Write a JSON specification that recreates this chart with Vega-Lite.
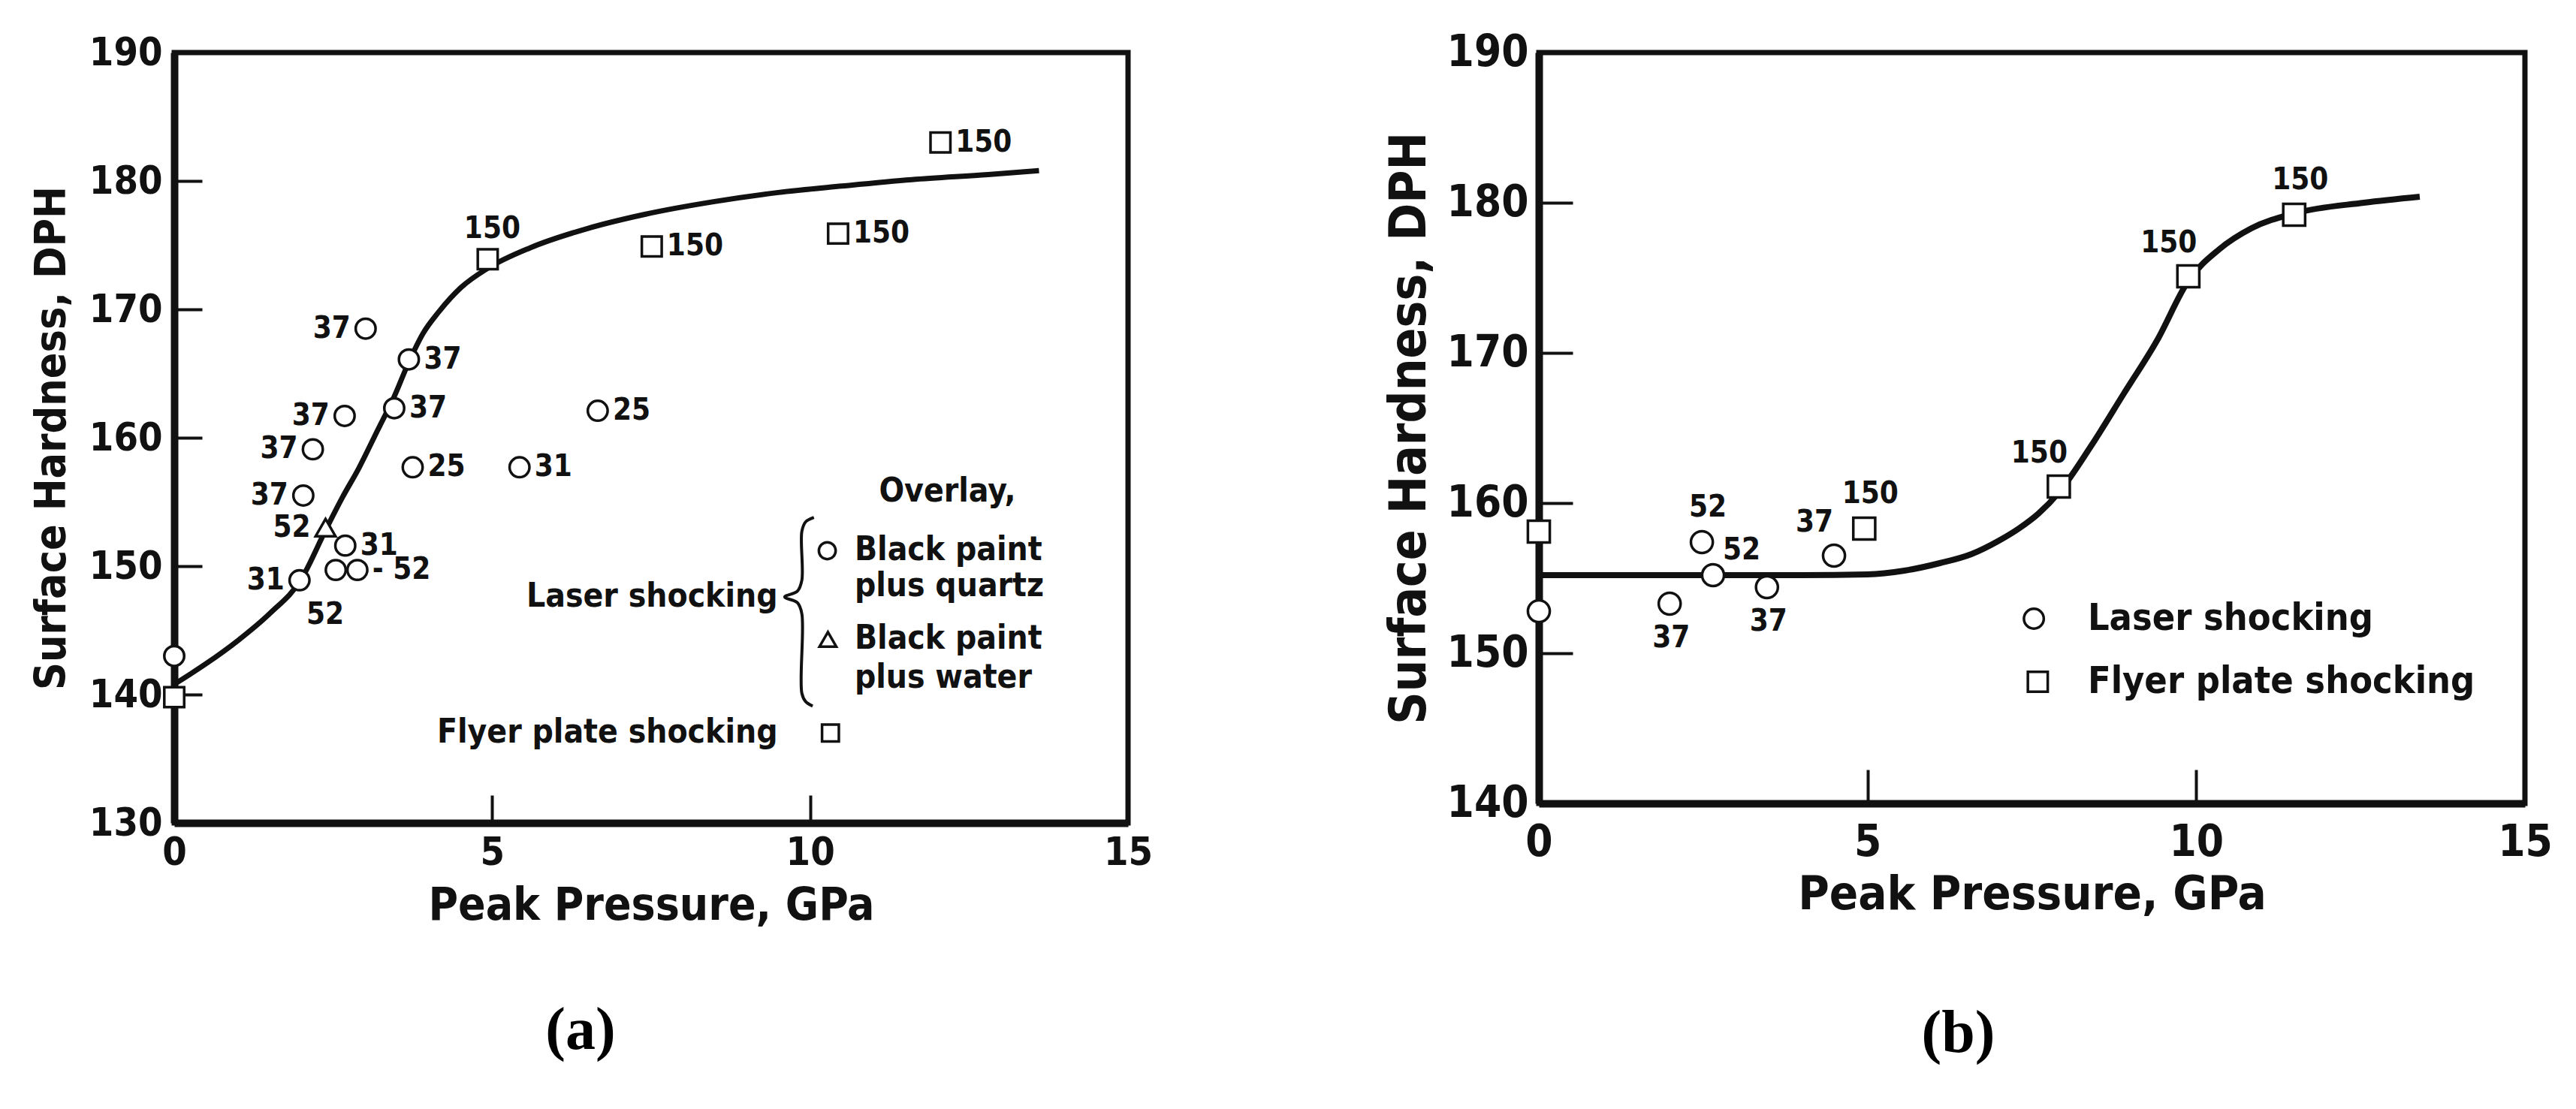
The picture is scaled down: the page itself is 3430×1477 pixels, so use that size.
{
  "$schema": "https://vega.github.io/schema/vega-lite/v6.json",
  "background": "white",
  "padding": {"left": 36, "top": 37, "right": 5, "bottom": 5},
  "spacing": 300,
  "config": {
    "font": "DejaVu Sans Condensed, DejaVu Sans",
    "view": {"stroke": "#111", "strokeWidth": 7},
    "axis": {"grid": false, "domainColor": "#111", "domainWidth": 10, "tickColor": "#111", "tickWidth": 4, "labelColor": "#111", "titleColor": "#111", "labelFont": "DejaVu Sans Condensed, DejaVu Sans", "titleFont": "DejaVu Sans Condensed, DejaVu Sans", "labelFontWeight": "bold", "titleFontWeight": "bold", "labelFlush": false, "labelOverlap": false},
    "text": {"color": "#111", "fontWeight": "bold"}
  },
  "datasets": {
    "curveA": [
      {"x": 0, "y": 140.8}, {"x": 0.5, "y": 142.4}, {"x": 1.0, "y": 144.2}, {"x": 1.5, "y": 146.3},
      {"x": 2.0, "y": 149.0}, {"x": 2.38, "y": 152.8}, {"x": 2.65, "y": 155.4}, {"x": 2.9, "y": 157.6},
      {"x": 3.2, "y": 160.6}, {"x": 3.45, "y": 163.1}, {"x": 3.69, "y": 165.9}, {"x": 3.91, "y": 168.1},
      {"x": 4.16, "y": 169.8}, {"x": 4.51, "y": 171.7}, {"x": 4.93, "y": 173.2}, {"x": 5.6, "y": 174.8},
      {"x": 6.5, "y": 176.3}, {"x": 7.4, "y": 177.4}, {"x": 8.5, "y": 178.4}, {"x": 9.5, "y": 179.1},
      {"x": 10.5, "y": 179.6}, {"x": 11.6, "y": 180.1}, {"x": 12.8, "y": 180.5}, {"x": 13.6, "y": 180.8}
    ],
    "ptsA": [
      {"x": 0, "y": 143.0, "shape": "circle", "lab": "", "side": "none"},
      {"x": 0, "y": 139.8, "shape": "square", "lab": "", "side": "none"},
      {"x": 3.01, "y": 168.5, "shape": "circle", "lab": "37", "side": "L"},
      {"x": 3.69, "y": 166.1, "shape": "circle", "lab": "37", "side": "R"},
      {"x": 3.46, "y": 162.3, "shape": "circle", "lab": "37", "side": "R"},
      {"x": 2.68, "y": 161.7, "shape": "circle", "lab": "37", "side": "L"},
      {"x": 2.18, "y": 159.1, "shape": "circle", "lab": "37", "side": "L"},
      {"x": 2.03, "y": 155.5, "shape": "circle", "lab": "37", "side": "L"},
      {"x": 2.38, "y": 153.0, "shape": "triangle", "lab": "52", "side": "L"},
      {"x": 2.69, "y": 151.6, "shape": "circle", "lab": "31", "side": "R"},
      {"x": 1.97, "y": 148.9, "shape": "circle", "lab": "31", "side": "L"},
      {"x": 2.54, "y": 149.7, "shape": "circle", "lab": "52", "side": "B"},
      {"x": 2.88, "y": 149.7, "shape": "circle", "lab": "- 52", "side": "R"},
      {"x": 3.75, "y": 157.7, "shape": "circle", "lab": "25", "side": "R"},
      {"x": 5.43, "y": 157.7, "shape": "circle", "lab": "31", "side": "R"},
      {"x": 6.66, "y": 162.1, "shape": "circle", "lab": "25", "side": "R"},
      {"x": 4.93, "y": 173.9, "shape": "square", "lab": "150", "side": "T"},
      {"x": 7.51, "y": 174.9, "shape": "square", "lab": "150", "side": "R"},
      {"x": 10.44, "y": 175.9, "shape": "square", "lab": "150", "side": "R"},
      {"x": 12.05, "y": 183.0, "shape": "square", "lab": "150", "side": "R"}
    ],
    "legTextA": [
      {"x": 12.16, "y": 155.8, "text": "Overlay,", "kind": "heading"},
      {"x": 9.49, "y": 147.6, "text": "Laser shocking", "kind": "method"},
      {"x": 9.49, "y": 137.0, "text": "Flyer plate shocking", "kind": "method"},
      {"x": 10.7, "y": 151.2, "text": "Black paint", "kind": "overlay"},
      {"x": 10.7, "y": 148.4, "text": "plus quartz", "kind": "overlay"},
      {"x": 10.7, "y": 144.3, "text": "Black paint", "kind": "overlay"},
      {"x": 10.7, "y": 141.3, "text": "plus water", "kind": "overlay"}
    ],
    "legMarkA": [
      {"x": 10.27, "y": 151.2, "shape": "circle"},
      {"x": 10.28, "y": 144.3, "shape": "triangle"},
      {"x": 10.32, "y": 137.0, "shape": "square"}
    ],
    "braceA": [
      {"i": 0, "x": 10.06, "y": 153.8}, {"i": 1, "x": 9.93, "y": 153.45}, {"i": 2, "x": 9.87, "y": 152.7},
      {"i": 3, "x": 9.87, "y": 148.9}, {"i": 4, "x": 9.8, "y": 148.05}, {"i": 5, "x": 9.6, "y": 147.6},
      {"i": 6, "x": 9.8, "y": 147.15}, {"i": 7, "x": 9.87, "y": 146.3}, {"i": 8, "x": 9.87, "y": 140.1},
      {"i": 9, "x": 9.93, "y": 139.45}, {"i": 10, "x": 10.04, "y": 139.1}
    ],
    "curveB": [
      {"x": 0, "y": 155.2}, {"x": 1, "y": 155.2}, {"x": 2, "y": 155.2}, {"x": 3, "y": 155.2},
      {"x": 4, "y": 155.2}, {"x": 5, "y": 155.25}, {"x": 5.56, "y": 155.5}, {"x": 6.1, "y": 156.0},
      {"x": 6.58, "y": 156.6}, {"x": 7.0, "y": 157.5}, {"x": 7.3, "y": 158.3}, {"x": 7.6, "y": 159.3},
      {"x": 7.91, "y": 160.7}, {"x": 8.4, "y": 163.8}, {"x": 8.9, "y": 167.3}, {"x": 9.4, "y": 170.8},
      {"x": 9.88, "y": 174.8}, {"x": 10.35, "y": 176.9}, {"x": 10.84, "y": 178.3}, {"x": 11.5, "y": 179.3},
      {"x": 12.55, "y": 180.0}, {"x": 13.4, "y": 180.4}
    ],
    "ptsB": [
      {"x": 0, "y": 158.1, "shape": "square", "lab": "", "side": "none"},
      {"x": 0, "y": 152.8, "shape": "circle", "lab": "", "side": "none"},
      {"x": 2.48, "y": 157.4, "shape": "circle", "lab": "52", "side": "T"},
      {"x": 2.65, "y": 155.2, "shape": "circle", "lab": "52", "side": "TR"},
      {"x": 1.99, "y": 153.3, "shape": "circle", "lab": "37", "side": "B"},
      {"x": 3.47, "y": 154.4, "shape": "circle", "lab": "37", "side": "B"},
      {"x": 4.49, "y": 156.5, "shape": "circle", "lab": "37", "side": "TL"},
      {"x": 4.95, "y": 158.3, "shape": "square", "lab": "150", "side": "T"},
      {"x": 7.91, "y": 161.1, "shape": "square", "lab": "150", "side": "TL"},
      {"x": 9.88, "y": 175.1, "shape": "square", "lab": "150", "side": "TL"},
      {"x": 11.49, "y": 179.2, "shape": "square", "lab": "150", "side": "T"}
    ],
    "legTextB": [
      {"x": 8.35, "y": 152.3, "text": "Laser shocking"},
      {"x": 8.35, "y": 148.1, "text": "Flyer plate shocking"}
    ],
    "legMarkB": [
      {"x": 7.53, "y": 152.3, "shape": "circle"},
      {"x": 7.59, "y": 148.1, "shape": "square"}
    ]
  },
  "hconcat": [
    {
      "width": 1270,
      "height": 1026,
      "title": {"text": "(a)", "orient": "bottom", "frame": "group", "anchor": "middle", "dx": -94, "offset": 98, "font": "Liberation Serif", "fontSize": 80, "fontWeight": "bold", "color": "black"},
      "encoding": {
        "x": {"field": "x", "type": "quantitative", "scale": {"domain": [0, 15], "nice": false, "zero": false},
              "axis": {"values": [0, 5, 10, 15], "title": "Peak Pressure, GPa", "tickSize": -37, "labelPadding": 51, "labelFontSize": 52, "titleFontSize": 60, "titlePadding": 16}},
        "y": {"field": "y", "type": "quantitative", "scale": {"domain": [130, 190], "nice": false, "zero": false},
              "axis": {"values": [130, 140, 150, 160, 170, 180, 190], "title": "Surface Hardness, DPH", "tickSize": -37, "labelPadding": 53, "labelFontSize": 52, "titleFontSize": 57, "titlePadding": 20}}
      },
      "layer": [
        {"data": {"name": "curveA"}, "mark": {"type": "line", "interpolate": "monotone", "color": "#111", "strokeWidth": 7}},
        {"data": {"name": "braceA"}, "mark": {"type": "line", "interpolate": "catmull-rom", "color": "#111", "strokeWidth": 4}, "encoding": {"order": {"field": "i", "type": "quantitative"}}},
        {"data": {"name": "ptsA"}, "mark": {"type": "point", "filled": true, "fill": "white", "stroke": "#111", "strokeWidth": 3.5, "size": 700, "opacity": 1},
         "encoding": {"shape": {"field": "shape", "type": "nominal", "scale": {"domain": ["circle", "square", "triangle"], "range": ["circle", "square", "triangle-up"]}, "legend": null}}},
        {"data": {"name": "legMarkA"}, "mark": {"type": "point", "filled": true, "fill": "white", "stroke": "#111", "strokeWidth": 3.5, "size": 500, "opacity": 1},
         "encoding": {"shape": {"field": "shape", "type": "nominal", "scale": {"domain": ["circle", "square", "triangle"], "range": ["circle", "square", "triangle-up"]}, "legend": null}}},
        {"data": {"name": "ptsA"}, "transform": [{"filter": "datum.side === 'R'"}], "mark": {"type": "text", "align": "left", "baseline": "middle", "dx": 20, "fontSize": 40}, "encoding": {"text": {"field": "lab"}}},
        {"data": {"name": "ptsA"}, "transform": [{"filter": "datum.side === 'L'"}], "mark": {"type": "text", "align": "right", "baseline": "middle", "dx": -20, "fontSize": 40}, "encoding": {"text": {"field": "lab"}}},
        {"data": {"name": "ptsA"}, "transform": [{"filter": "datum.side === 'T'"}], "mark": {"type": "text", "align": "center", "baseline": "middle", "dx": 6, "dy": -40, "fontSize": 40}, "encoding": {"text": {"field": "lab"}}},
        {"data": {"name": "ptsA"}, "transform": [{"filter": "datum.side === 'B'"}], "mark": {"type": "text", "align": "center", "baseline": "middle", "dx": -14, "dy": 60, "fontSize": 40}, "encoding": {"text": {"field": "lab"}}},
        {"data": {"name": "legTextA"}, "transform": [{"filter": "datum.kind === 'heading'"}], "mark": {"type": "text", "align": "center", "baseline": "middle", "fontSize": 44}, "encoding": {"text": {"field": "text"}}},
        {"data": {"name": "legTextA"}, "transform": [{"filter": "datum.kind === 'method'"}], "mark": {"type": "text", "align": "right", "baseline": "middle", "fontSize": 44}, "encoding": {"text": {"field": "text"}}},
        {"data": {"name": "legTextA"}, "transform": [{"filter": "datum.kind === 'overlay'"}], "mark": {"type": "text", "align": "left", "baseline": "middle", "fontSize": 44}, "encoding": {"text": {"field": "text"}}}
      ]
    },
    {
      "width": 1313,
      "height": 1000,
      "title": {"text": "(b)", "orient": "bottom", "frame": "group", "anchor": "middle", "dx": -98, "offset": 115, "font": "Liberation Serif", "fontSize": 80, "fontWeight": "bold", "color": "black"},
      "encoding": {
        "x": {"field": "x", "type": "quantitative", "scale": {"domain": [0, 15], "nice": false, "zero": false},
              "axis": {"values": [0, 5, 10, 15], "title": "Peak Pressure, GPa", "tickSize": -45, "labelPadding": 68, "labelFontSize": 58, "titleFontSize": 63, "titlePadding": 9}},
        "y": {"field": "y", "type": "quantitative", "scale": {"domain": [140, 190], "nice": false, "zero": false},
              "axis": {"values": [140, 150, 160, 170, 180, 190], "title": "Surface Hardness, DPH", "tickSize": -45, "labelPadding": 59, "labelFontSize": 58, "titleFontSize": 67, "titlePadding": 15}}
      },
      "layer": [
        {"data": {"name": "curveB"}, "mark": {"type": "line", "interpolate": "monotone", "color": "#111", "strokeWidth": 8}},
        {"data": {"name": "ptsB"}, "mark": {"type": "point", "filled": true, "fill": "white", "stroke": "#111", "strokeWidth": 3.5, "size": 850, "opacity": 1},
         "encoding": {"shape": {"field": "shape", "type": "nominal", "scale": {"domain": ["circle", "square"], "range": ["circle", "square"]}, "legend": null}}},
        {"data": {"name": "legMarkB"}, "mark": {"type": "point", "filled": true, "fill": "white", "stroke": "#111", "strokeWidth": 3.5, "size": 700, "opacity": 1},
         "encoding": {"shape": {"field": "shape", "type": "nominal", "scale": {"domain": ["circle", "square"], "range": ["circle", "square"]}, "legend": null}}},
        {"data": {"name": "ptsB"}, "transform": [{"filter": "datum.side === 'T'"}], "mark": {"type": "text", "align": "center", "baseline": "middle", "dx": 8, "dy": -46, "fontSize": 40}, "encoding": {"text": {"field": "lab"}}},
        {"data": {"name": "ptsB"}, "transform": [{"filter": "datum.side === 'TL'"}], "mark": {"type": "text", "align": "center", "baseline": "middle", "dx": -26, "dy": -44, "fontSize": 40}, "encoding": {"text": {"field": "lab"}}},
        {"data": {"name": "ptsB"}, "transform": [{"filter": "datum.side === 'TR'"}], "mark": {"type": "text", "align": "center", "baseline": "middle", "dx": 38, "dy": -33, "fontSize": 40}, "encoding": {"text": {"field": "lab"}}},
        {"data": {"name": "ptsB"}, "transform": [{"filter": "datum.side === 'B'"}], "mark": {"type": "text", "align": "center", "baseline": "middle", "dx": 2, "dy": 46, "fontSize": 40}, "encoding": {"text": {"field": "lab"}}},
        {"data": {"name": "legTextB"}, "mark": {"type": "text", "align": "left", "baseline": "middle", "fontSize": 50}, "encoding": {"text": {"field": "text"}}}
      ]
    }
  ]
}
